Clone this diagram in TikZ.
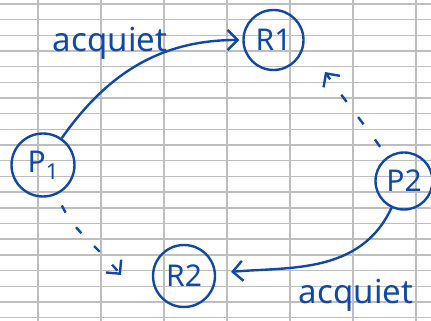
\documentclass[tikz,border=0pt]{standalone}
\usepackage{fontspec}
\setmainfont{Noto Sans}
\usetikzlibrary{arrows.meta, positioning}
\definecolor{myink}{RGB}{16, 72, 170}
\definecolor{mygrid}{RGB}{190, 190, 190}

\begin{document}
\begin{tikzpicture}[x=1pt, y=1pt]
\useasboundingbox (0,0) rectangle (431,321);
% --- Grid ---
\foreach \k in {0,...,20} \draw[mygrid, line width=1.4] (0,{317-15.68*\k}) -- (431,{317-15.68*\k});
\foreach \k in {0,...,6} \draw[mygrid, line width=1.4] ({38+63*\k},0) -- ({38+63*\k},321);

% --- Processes ---
\node at (43,156) [circle, draw=myink, line width=2.4, text=myink, minimum size=63, inner sep=0, font=\fontsize{30}{30}\selectfont] (p1) {P\raisebox{-7pt}{\fontsize{22}{22}\selectfont 1}};
\node at (404,140) [circle, draw=myink, line width=2.4, text=myink, minimum size=57, inner sep=0, font=\fontsize{30}{30}\selectfont] (p2) {P2};

% --- Resources ---
\node at (273.5,281) [circle, draw=myink, line width=2.4, text=myink, minimum size=60, inner sep=0, font=\fontsize{30}{30}\selectfont] (r1) {R1};
\node at (184,45) [circle, draw=myink, line width=2.4, text=myink, minimum size=62, inner sep=0, font=\fontsize{30}{30}\selectfont] (r2) {R2};
\coordinate (r1in) at (325,249);
\coordinate (r2in) at (121,46);

% --- Labels ---
\node at (110,278) [text=myink, font=\fontsize{33}{33}\selectfont] (ack1) {acquiet};
\node at (356,26) [text=myink, font=\fontsize{33}{33}\selectfont] (ack2) {acquiet};

% --- Arrows ---
\draw (p1) edge[-{Straight Barb[length=10, width=20]}, line width=2.4, myink, out=55, in=180, shorten >=3] (r1);
\draw (p2) edge[-{Straight Barb[length=10, width=20]}, line width=2.4, myink, out=-115, in=5, shorten >=15] (r2);
\draw (p1) edge[-{Straight Barb[length=10, width=20]}, line width=2.4, myink, dash pattern=on 8 off 18, out=-65, in=130, shorten <=12] (r2in);
\draw (p2) edge[-{Straight Barb[length=10, width=20]}, line width=2.4, myink, dash pattern=on 9 off 19, out=125, in=-55, shorten <=12] (r1in);
\end{tikzpicture}
\end{document}
